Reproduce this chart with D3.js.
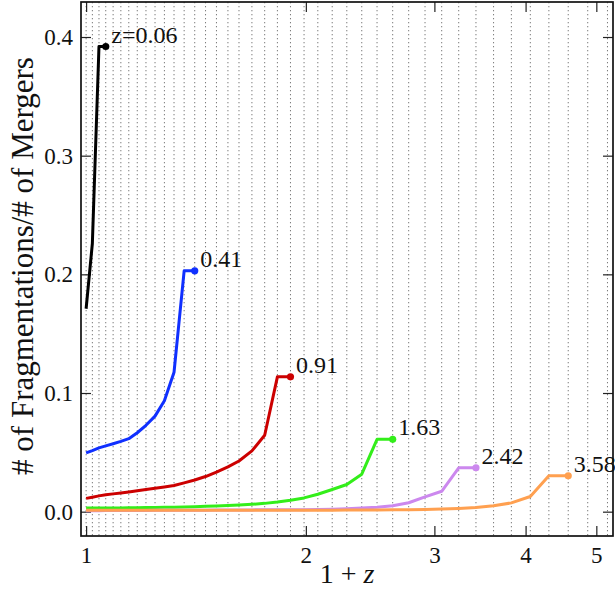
<!DOCTYPE html>
<html>
<head>
<meta charset="utf-8">
<script src="https://cdn.jsdelivr.net/npm/d3@7"></script>
<style>
  html, body { margin: 0; padding: 0; background: #fff; }
  svg text { font-family: "Liberation Serif", "DejaVu Serif", serif; fill: #111; }
</style>
</head>
<body>
<svg id="chart" width="615" height="591"></svg>
<script>
// Snapshot redshifts (z) used as the sampling grid for every curve
const snapZ = [0, 0.0199, 0.0414, 0.0639, 0.0889, 0.1158, 0.1441, 0.1751, 0.2078, 0.2428,
  0.2801, 0.3196, 0.3624, 0.4086, 0.4575, 0.5086, 0.5642, 0.6197, 0.6871, 0.7564,
  0.8283, 0.9053, 0.9887, 1.0770, 1.1734, 1.2758, 1.3857, 1.5036, 1.6302, 1.7663,
  1.9126, 2.0700, 2.2392, 2.4204, 2.6157, 2.8246, 3.0602, 3.3050, 3.5759, 3.8662, 4.1789];

// Ratio of fragmentations to mergers, one value per snapshot starting at z = 0
const ratioZ006 = [0.171, 0.226, 0.392, 0.392];
const ratioZ041 = [0.0495, 0.0515, 0.0538, 0.0555, 0.0572, 0.0592, 0.0615, 0.0665, 0.0728, 0.0805,
  0.0935, 0.1175, 0.203, 0.203];
const ratioZ091 = [0.0112, 0.0122, 0.0133, 0.0142, 0.0150, 0.0158, 0.0166, 0.0176, 0.0187, 0.0197,
  0.0208, 0.0220, 0.0243, 0.0267, 0.0296, 0.0333, 0.0377, 0.0427, 0.0512, 0.0644,
  0.1136, 0.1136];
const ratioZ163 = [0.0030, 0.0030, 0.0031, 0.0031, 0.0032, 0.0032, 0.0033, 0.0034, 0.0035, 0.0036,
  0.0037, 0.0038, 0.0040, 0.0042, 0.0045, 0.0048, 0.0052, 0.0056, 0.0062, 0.0070,
  0.0082, 0.0097, 0.0116, 0.0147, 0.0187, 0.0229, 0.0316, 0.0610, 0.0610];
const ratioZ242 = [0.0008, 0.0008, 0.0008, 0.0009, 0.0009, 0.0009, 0.0010, 0.0010, 0.0010, 0.0011,
  0.0011, 0.0012, 0.0012, 0.0013, 0.0013, 0.0014, 0.0014, 0.0015, 0.0015, 0.0016,
  0.0016, 0.0016, 0.0017, 0.0019, 0.0021, 0.0025, 0.0031, 0.0038, 0.0050, 0.0075,
  0.0125, 0.0172, 0.0370, 0.0370];
const ratioZ358 = [0.0011, 0.0011, 0.0011, 0.0011, 0.0011, 0.0011, 0.0011, 0.0011, 0.0011, 0.0011,
  0.0011, 0.0011, 0.0011, 0.0012, 0.0012, 0.0012, 0.0012, 0.0012, 0.0012, 0.0012,
  0.0012, 0.0013, 0.0013, 0.0013, 0.0013, 0.0014, 0.0014, 0.0015, 0.0016, 0.0017,
  0.0019, 0.0022, 0.0027, 0.0035, 0.0050, 0.0074, 0.0128, 0.0302, 0.0302];

const seriesLabels = ["z=0.06", "0.41", "0.91", "1.63", "2.42", "3.58"];
const seriesColors = ["#000000", "#1030ff", "#cc0000", "#33ee1a", "#cc88ee", "#ffa050"];
const seriesValues = [ratioZ006, ratioZ041, ratioZ091, ratioZ163, ratioZ242, ratioZ358];

const xTicks = [1, 2, 3, 4, 5];
const yTicks = [0.0, 0.1, 0.2, 0.3, 0.4];

const serif = '"Liberation Serif", "DejaVu Serif", serif';
const svg = d3.select("#chart");
const plot = { left: 81, right: 613, top: 2, bottom: 536 };

const x = d3.scaleLog().domain([0.984, 5.27]).range([plot.left, plot.right]);
const y = d3.scaleLinear().domain([-0.0205, 0.4295]).range([plot.bottom, plot.top]);

// dotted vertical lines at each snapshot
svg.append("g")
  .selectAll("line")
  .data(snapZ.filter(z => x(1 + z) < plot.right - 1))
  .join("line")
  .attr("x1", z => x(1 + z)).attr("x2", z => x(1 + z))
  .attr("y1", plot.top).attr("y2", plot.bottom)
  .attr("stroke", "#7a7a7a")
  .attr("stroke-width", 1)
  .attr("stroke-dasharray", "1.3 2.7");

// axes with inward ticks on all four sides
const tickLen = 10;
const fmtY = d3.format(".1f");
const axisBottom = d3.axisBottom(x).tickValues(xTicks).tickFormat(d3.format("d"))
  .tickSizeInner(-tickLen).tickSizeOuter(0).tickPadding(11);
const axisTop = d3.axisTop(x).tickValues(xTicks).tickFormat("")
  .tickSizeInner(-tickLen).tickSizeOuter(0);
const axisLeft = d3.axisLeft(y).tickValues(yTicks).tickFormat(fmtY)
  .tickSizeInner(-tickLen).tickSizeOuter(0).tickPadding(8);
const axisRight = d3.axisRight(y).tickValues(yTicks).tickFormat("")
  .tickSizeInner(-tickLen).tickSizeOuter(0);

function styleAxis(g) {
  g.attr("font-family", null).attr("font-size", null);
  g.select(".domain").remove();
  g.selectAll(".tick line").attr("stroke", "#222").attr("stroke-width", 1.2);
  g.selectAll(".tick text")
    .style("font-family", serif).style("font-size", "23px").attr("fill", "#111");
}

svg.append("g").attr("transform", `translate(0,${plot.bottom})`).call(axisBottom).call(styleAxis);
svg.append("g").attr("transform", `translate(0,${plot.top})`).call(axisTop).call(styleAxis);
svg.append("g").attr("transform", `translate(${plot.left},0)`).call(axisLeft).call(styleAxis);
svg.append("g").attr("transform", `translate(${plot.right},0)`).call(axisRight).call(styleAxis);

// frame
svg.append("rect")
  .attr("x", plot.left).attr("y", plot.top)
  .attr("width", plot.right - plot.left).attr("height", plot.bottom - plot.top)
  .attr("fill", "none").attr("stroke", "#111").attr("stroke-width", 1.7);

// curves
const line = d3.line().x(d => x(1 + d.z)).y(d => y(d.v));
seriesValues.forEach((vals, i) => {
  const pts = vals.map((v, k) => ({ z: snapZ[k], v }));
  const g = svg.append("g");
  g.append("path")
    .attr("d", line(pts))
    .attr("fill", "none")
    .attr("stroke", seriesColors[i])
    .attr("stroke-width", 3)
    .attr("stroke-linejoin", "round");
  const last = pts[pts.length - 1];
  g.append("circle")
    .attr("cx", x(1 + last.z)).attr("cy", y(last.v)).attr("r", 3.6)
    .attr("fill", seriesColors[i]);
  g.append("text")
    .attr("x", x(1 + last.z) + 5.5).attr("y", y(last.v) - 4)
    .style("font-family", serif).style("font-size", "24px")
    .text(seriesLabels[i]);
});

// axis titles
const xTitle = svg.append("text")
  .attr("x", (plot.left + plot.right) / 2).attr("y", 583)
  .attr("text-anchor", "middle")
  .style("font-family", serif).style("font-size", "28px");
xTitle.append("tspan").text("1 + ");
xTitle.append("tspan").attr("font-style", "italic").text("z");

svg.append("text")
  .attr("transform", `translate(33,${(plot.top + plot.bottom) / 2 - 3}) rotate(-90)`)
  .attr("text-anchor", "middle")
  .style("font-family", serif).style("font-size", "31px")
  .text("# of Fragmentations/# of Mergers");
</script>
</body>
</html>
